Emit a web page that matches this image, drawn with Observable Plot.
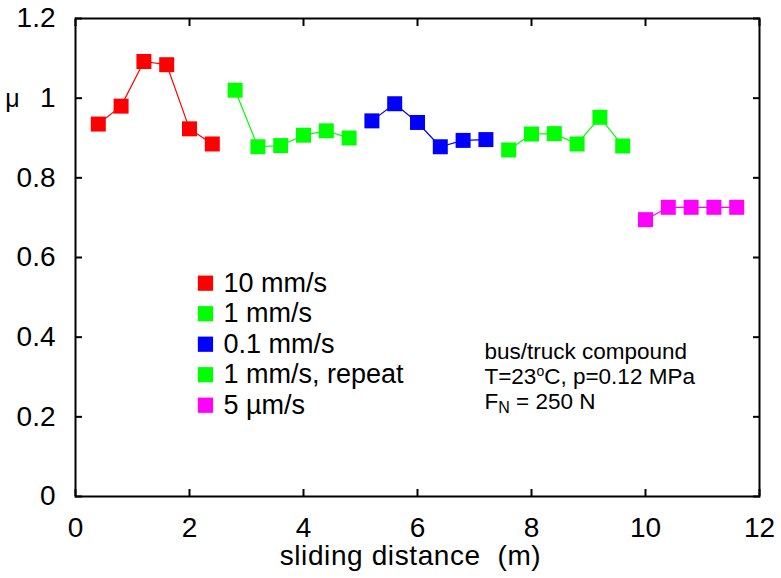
<!DOCTYPE html>
<html>
<head>
<meta charset="utf-8">
<script src="https://cdn.jsdelivr.net/npm/d3@7"></script>
<script src="https://cdn.jsdelivr.net/npm/@observablehq/plot@0.6"></script>
<style>
  html, body { margin: 0; padding: 0; background: #fff; }
  #chart svg { display: block; }
</style>
</head>
<body>
<div id="chart"></div>
<script>
// ---- data ----
const series = ["10 mm/s", "1 mm/s", "0.1 mm/s", "1 mm/s, repeat", "5 µm/s"];
const seriesColors = ["#ff0000", "#00ff00", "#0000ff", "#00ff00", "#ff00ff"];

const dist10 = [0.4, 0.8, 1.2, 1.6, 2.0, 2.4];
const mu10   = [0.935, 0.980, 1.092, 1.084, 0.923, 0.885];

const dist1 = [2.8, 3.2, 3.6, 4.0, 4.4, 4.8];
const mu1   = [1.020, 0.878, 0.881, 0.907, 0.918, 0.900];

const dist01 = [5.2, 5.6, 6.0, 6.4, 6.8, 7.2];
const mu01   = [0.943, 0.986, 0.939, 0.878, 0.894, 0.896];

const dist1r = [7.6, 8.0, 8.4, 8.8, 9.2, 9.6];
const mu1r   = [0.870, 0.910, 0.911, 0.885, 0.952, 0.880];

const dist5 = [10.0, 10.4, 10.8, 11.2, 11.6];
const mu5   = [0.695, 0.726, 0.726, 0.726, 0.726];

const xTicks = [0, 2, 4, 6, 8, 10, 12];
const yTicks = [0, 0.2, 0.4, 0.6, 0.8, 1, 1.2];

const xLabel = "sliding distance  (m)";
const yLabel = "μ";
const noteLines = ["bus/truck compound", "T=23°C, p=0.12 MPa", "FN = 250 N"];

// ---- build table ----
const groups = [[dist10, mu10], [dist1, mu1], [dist01, mu01], [dist1r, mu1r], [dist5, mu5]];
const rows = [];
groups.forEach(([xs, ys], k) => xs.forEach((x, i) => rows.push({series: series[k], x, y: ys[i]})));

const FONT = "'Liberation Sans', Arial, Helvetica, sans-serif";

const svg = Plot.plot({
  width: 781,
  height: 578,
  marginLeft: 75,
  marginRight: 22,
  marginTop: 18,
  marginBottom: 82,
  x: {domain: [0, 12]},
  y: {domain: [0, 1.2]},
  color: {domain: series, range: seriesColors},
  style: {fontFamily: FONT, background: "#fff", color: "#000", overflow: "visible"},
  marks: [
    Plot.line(rows, {x: "x", y: "y", z: "series", stroke: "series", strokeWidth: 1.2}),
    Plot.dot(rows, {x: "x", y: "y", symbol: "square", r: 8.46, fill: "series", stroke: null}),
    Plot.frame({stroke: "#000", strokeWidth: 2}),
    Plot.axisX(xTicks, {anchor: "bottom", tickSize: -7, tickPadding: 28, strokeWidth: 2, fontSize: 28, label: null, tickFormat: d => String(d)}),
    Plot.axisX(xTicks, {anchor: "top", tickSize: -7, strokeWidth: 2, tickFormat: () => "", label: null}),
    Plot.axisY(yTicks, {anchor: "left", tickSize: -7, tickPadding: 27, strokeWidth: 2, fontSize: 28, label: null, tickFormat: d => String(d)}),
    Plot.axisY(yTicks, {anchor: "right", tickSize: -7, strokeWidth: 2, tickFormat: () => "", label: null}),
    // axis titles
    Plot.text([xLabel], {text: d => d, frameAnchor: "bottom", textAnchor: "middle", lineAnchor: "middle", dy: 60, dx: -7, fontSize: 28}),
    Plot.text([yLabel], {text: d => d, frameAnchor: "top-left", textAnchor: "middle", lineAnchor: "middle", dx: -63, dy: 80, fontSize: 25}),
    // legend
    Plot.dot(series, {x: () => 2.28, y: (d, i) => 0.5355 - i * 0.0766, symbol: "square", r: 8.6, fill: d => d, stroke: null}),
    Plot.text(series, {x: () => 2.596, y: (d, i) => 0.5355 - i * 0.0766, text: d => d, textAnchor: "start", lineAnchor: "middle", fontSize: 27}),
    // note
    Plot.text(noteLines, {x: () => 7.175, y: (d, i) => [0.3625, 0.3005, 0.2388][i], text: d => d, textAnchor: "start", lineAnchor: "middle", fontSize: 22.5})
  ]
});

// superscript / subscript details, spacing of the axis title
svg.querySelectorAll("text").forEach(t => {
  const s = t.textContent;
  const NS = "http://www.w3.org/2000/svg";
  const mk = (txt, attrs) => { const e = document.createElementNS(NS, "tspan"); e.textContent = txt; for (const k in attrs) e.setAttribute(k, attrs[k]); return e; };
  if (s === "FN = 250 N") {
    t.textContent = "";
    t.appendChild(mk("F", {}));
    t.appendChild(mk("N", {"font-size": 16, dy: 4}));
    t.appendChild(mk(" = 250 N", {dy: -4}));
  } else if (s === "T=23°C, p=0.12 MPa") {
    t.textContent = "";
    t.appendChild(mk("T=23", {}));
    t.appendChild(mk("o", {"font-size": 14, dy: -8}));
    t.appendChild(mk("C, p=0.12 MPa", {dy: 8}));
  } else if (s === xLabel) {
    t.style.whiteSpace = "pre";
    t.setAttribute("xml:space", "preserve");
    t.style.letterSpacing = "0.6px";
  }
});

document.getElementById("chart").appendChild(svg);
</script>
</body>
</html>
